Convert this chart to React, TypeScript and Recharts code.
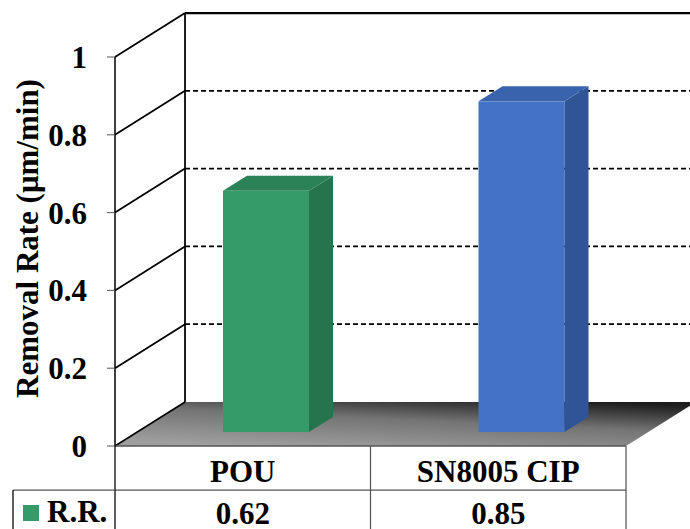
import { BarChart, Bar, XAxis, YAxis, CartesianGrid, Cell } from 'recharts';

const categories = ['POU', 'SN8005 CIP'];
const removalRate = [0.62, 0.85];
const seriesName = 'R.R.';
const yTicks = [0, 0.2, 0.4, 0.6, 0.8, 1];
const yTitle = 'Removal Rate (μm/min)';

const data = categories.map((name, i) => ({ name, rr: removalRate[i] }));

// layout
const W = 690;
const H = 529;
const M_TOP = 57;
const M_RIGHT = 64;
const Y_AXIS_W = 115;
const X_AXIS_H = 83;
const PLOT_W = W - Y_AXIS_W - M_RIGHT;
const PLOT_TOP = M_TOP;
const PLOT_BOTTOM = H - X_AXIS_H;
const BAND = PLOT_W / categories.length;

// fake 3-D depth
const DEPTH_X = 70;
const DEPTH_Y = 44;
const BAR_SHIFT_X = 23;
const BAR_SHIFT_Y = 14;
const BAR_DX = 24;
const BAR_DY = 15;

const FONT = '"Liberation Serif", "Times New Roman", serif';
const FONT_SIZE = 31;
const frontColors = ['#359c69', '#4472c4'];
const sideColors = ['#26744d', '#2f5597'];
const topColors = ['#2b8257', '#3a63ae'];
const lineColor = '#000';
const tableLine = '#555';

const Bar3D = (props: any) => {
  const { x, y, width, height, index } = props;
  const fx = x + BAR_SHIFT_X;
  const fy = y - BAR_SHIFT_Y;
  const rx = fx + width;
  const by = fy + height;
  return (
    <g>
      <rect x={fx} y={fy} width={width} height={height} fill={frontColors[index]} />
      <polygon
        points={`${rx},${fy} ${rx + BAR_DX},${fy - BAR_DY} ${rx + BAR_DX},${by - BAR_DY} ${rx},${by}`}
        fill={sideColors[index]}
      />
      <polygon
        points={`${fx},${fy} ${fx + BAR_DX},${fy - BAR_DY} ${rx + BAR_DX},${fy - BAR_DY} ${rx},${fy}`}
        fill={topColors[index]}
      />
    </g>
  );
};

// side wall, back wall and floor, one call per y tick
const WallLine = (props: any) => {
  const { x1, y1, index } = props;
  const bx = x1 + DEPTH_X;
  const by = y1 - DEPTH_Y;
  if (Math.abs(y1 - PLOT_BOTTOM) < 1) {
    return (
      <g key={`wall-${index}`}>
        <defs>
          <linearGradient id="floorGrad" x1="0.25" y1="1" x2="0.85" y2="0">
            <stop offset="0%" stopColor="#9e9e9e" />
            <stop offset="55%" stopColor="#747474" />
            <stop offset="100%" stopColor="#1c1c1c" />
          </linearGradient>
        </defs>
        <polygon
          points={`${x1},${y1} ${bx},${by} ${x1 + PLOT_W + DEPTH_X},${by} ${x1 + PLOT_W},${y1}`}
          fill="url(#floorGrad)"
        />
        <line x1={bx} y1={by} x2={bx} y2={PLOT_TOP - DEPTH_Y} stroke={lineColor} strokeWidth={1.75} />
        <line x1={x1} y1={y1} x2={bx} y2={by} stroke={lineColor} strokeWidth={1.5} />
      </g>
    );
  }
  const isTop = Math.abs(y1 - PLOT_TOP) < 1;
  return (
    <g key={`wall-${index}`}>
      <line x1={x1} y1={y1} x2={bx} y2={by} stroke={lineColor} strokeWidth={1.75} />
      <line
        x1={bx}
        y1={by}
        x2={W}
        y2={by}
        stroke={lineColor}
        strokeWidth={isTop ? 2.25 : 1.75}
        strokeDasharray={isTop ? undefined : '5 3'}
      />
    </g>
  );
};

const YTick = (props: any) => {
  const { y, payload } = props;
  return (
    <text x={87} y={y + 11} textAnchor="end" fontFamily={FONT} fontWeight="bold" fontSize={FONT_SIZE} fill="#000">
      {payload.value}
    </text>
  );
};

const YTitle = (props: any) => {
  const { viewBox } = props;
  const cx = viewBox.x + 27;
  const cy = viewBox.y + viewBox.height / 2 - 13;
  return (
    <text
      x={cx}
      y={cy}
      transform={`rotate(-90, ${cx}, ${cy})`}
      textAnchor="middle"
      dominantBaseline="central"
      fontFamily={FONT}
      fontWeight="bold"
      fontSize={FONT_SIZE}
      fill="#000"
    >
      {yTitle}
    </text>
  );
};

// data table under the chart
const TableTick = (props: any) => {
  const { x, index, payload } = props;
  const top = PLOT_BOTTOM;
  const rowY = top + 44;
  const left = x - BAND / 2;
  const right = x + BAND / 2;
  return (
    <g>
      <line x1={right} y1={top} x2={right} y2={H} stroke={tableLine} strokeWidth={1.25} />
      <line x1={left} y1={rowY} x2={right} y2={rowY} stroke={tableLine} strokeWidth={1.25} />
      {index === 0 && (
        <g>
          <line x1={left} y1={top} x2={left} y2={H} stroke={lineColor} strokeWidth={1.25} />
          <line x1={13} y1={rowY} x2={left} y2={rowY} stroke={tableLine} strokeWidth={1.25} />
          <line x1={13} y1={rowY} x2={13} y2={H} stroke={lineColor} strokeWidth={1.25} />
          <rect x={23} y={505} width={16} height={16} fill={frontColors[0]} />
          <text x={47} y={522} fontFamily={FONT} fontWeight="bold" fontSize={FONT_SIZE} fill="#000">
            {seriesName}
          </text>
        </g>
      )}
      <text x={x} y={top + 36} textAnchor="middle" fontFamily={FONT} fontWeight="bold" fontSize={FONT_SIZE} fill="#000">
        {payload.value}
      </text>
      <text x={x} y={top + 78} textAnchor="middle" fontFamily={FONT} fontWeight="bold" fontSize={FONT_SIZE} fill="#000">
        {removalRate[index]}
      </text>
    </g>
  );
};

export default function App() {
  return (
    <div style={{ position: 'absolute', left: 0, top: 0, background: '#fff' }}>
      <BarChart width={W} height={H} data={data} margin={{ top: M_TOP, right: M_RIGHT, left: 0, bottom: 0 }}>
        <CartesianGrid vertical={false} horizontal={WallLine} />
        <XAxis
          dataKey="name"
          height={X_AXIS_H}
          tickLine={false}
          tickSize={0}
          tick={TableTick}
          interval={0}
          axisLine={{ stroke: tableLine, strokeWidth: 1.5 }}
        />
        <YAxis
          type="number"
          domain={[0, 1]}
          ticks={yTicks}
          interval={0}
          width={Y_AXIS_W}
          tickSize={8}
          tick={YTick}
          tickLine={{ stroke: '#555' }}
          axisLine={{ stroke: lineColor, strokeWidth: 1.5 }}
          label={<YTitle />}
        />
        <Bar dataKey="rr" name={seriesName} barSize={86} shape={Bar3D} isAnimationActive={false}>
          {data.map((d, i) => (
            <Cell key={d.name} fill={frontColors[i]} />
          ))}
        </Bar>
      </BarChart>
    </div>
  );
}
